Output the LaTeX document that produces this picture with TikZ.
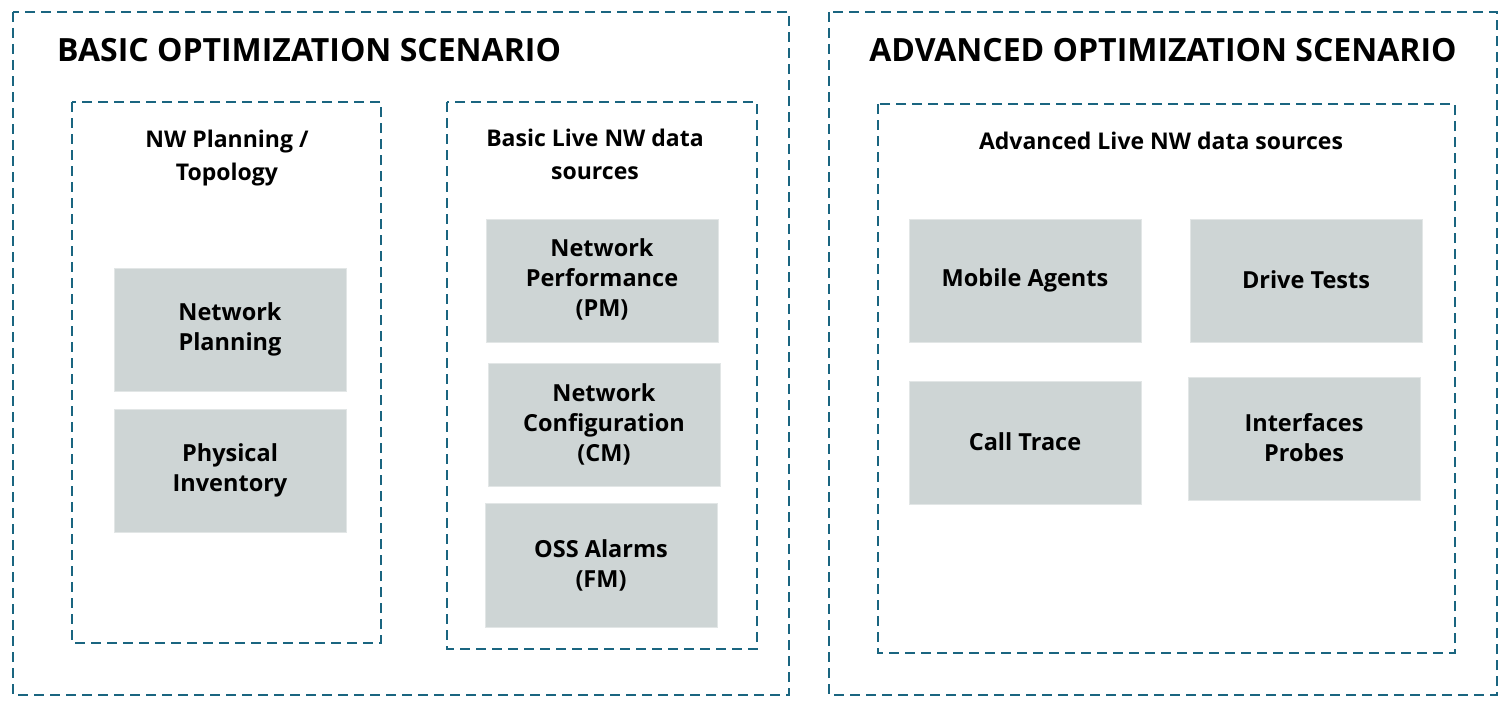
\documentclass[tikz,border=0pt]{standalone}
\usepackage{fontspec}
\setmainfont{Open Sans}[BoldFont={Open Sans Bold}]
\definecolor{dashc}{HTML}{1A6580}
\definecolor{boxc}{HTML}{CED5D5}
\begin{document}
\begin{tikzpicture}[x=1pt,y=-1pt,
  frame/.style={draw=dashc,line width=2.6pt,dash pattern=on 10pt off 6pt},
  gbox/.style={fill=boxc,draw=boxc!60!white,line width=0.8pt},
  lbl/.style={font=\bfseries\fontsize{23.5}{30}\selectfont,align=center,text=black,inner sep=0pt},
  ttl/.style={font=\bfseries\fontsize{32}{36}\selectfont,text=black,inner sep=0pt},
  sub/.style={font=\bfseries\fontsize{23}{33}\selectfont,align=center,text=black,inner sep=0pt}]
\useasboundingbox (0,0) rectangle (1506,709);
% outer frames
\draw[frame] (13,12) rectangle (789,695);
\draw[frame] (829,12) rectangle (1497,695);
\node[ttl,anchor=west] (t1) at (57,50) {BASIC OPTIMIZATION SCENARIO};
\node[ttl] (t2) at (1163,50) {ADVANCED OPTIMIZATION SCENARIO};
% inner frames
\draw[frame] (72,102) rectangle (381,643);
\draw[frame] (447,102) rectangle (757,649);
\draw[frame] (878,104) rectangle (1455,653);
\node[sub] (s1) at (227,158) {NW Planning /\\Topology};
\node[sub] (s2) at (595,154) {Basic Live NW data\\sources};
\node[sub] (s3) at (1161,141) {Advanced Live NW data sources};
% gray boxes
\draw[gbox] (114,268) rectangle (346,391);
\node[lbl] (np) at (230,329) {Network\\Planning};
\draw[gbox] (114,409) rectangle (346,532);
\node[lbl] (pi) at (230,470) {Physical\\Inventory};
\draw[gbox] (486,219) rectangle (718,342);
\node[lbl] (pm) at (602,279) {Network\\Performance\\(PM)};
\draw[gbox] (488,363) rectangle (720,486);
\node[lbl] (cm) at (604,424) {Network\\Configuration\\(CM)};
\draw[gbox] (485,503) rectangle (717,627);
\node[lbl] (fm) at (601,565) {OSS Alarms\\(FM)};
\draw[gbox] (909,219) rectangle (1141,342);
\node[lbl] (ma) at (1025,280) {Mobile Agents};
\draw[gbox] (1190,219) rectangle (1422,342);
\node[lbl] (dt) at (1306,280) {Drive Tests};
\draw[gbox] (909,381) rectangle (1141,504);
\node[lbl] (ct) at (1025,442) {Call Trace};
\draw[gbox] (1188,377) rectangle (1420,500);
\node[lbl] (ip) at (1304,438) {Interfaces\\Probes};
\end{tikzpicture}
\end{document}
